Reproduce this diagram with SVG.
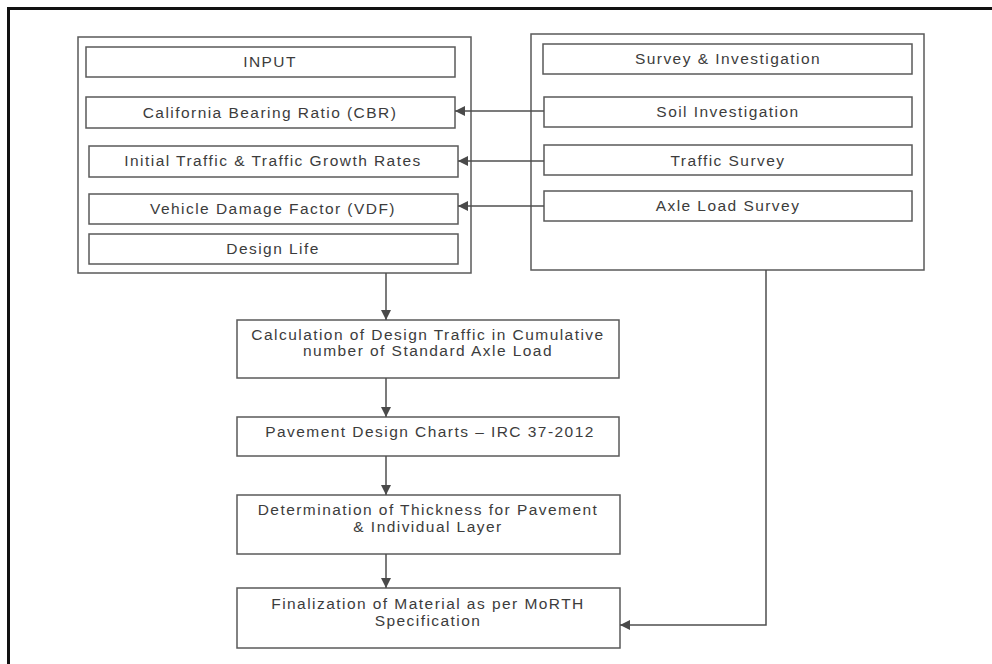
<svg xmlns="http://www.w3.org/2000/svg" width="992" height="664" viewBox="0 0 992 664">
<defs>
<marker id="ah" viewBox="0 0 10 10" refX="10" refY="5" markerWidth="10" markerHeight="10" markerUnits="userSpaceOnUse" orient="auto">
<path d="M0,0 L10,5 L0,10 Z" fill="#4a4a4a"/>
</marker>
<style>
.box{fill:#fff;stroke:#5a5a5a;stroke-width:1.5}
.grp{fill:none;stroke:#5a5a5a;stroke-width:1.5}
.t{font-family:"Liberation Sans",Arial,sans-serif;font-size:15.5px;fill:#3c3c3c;letter-spacing:1.45px;text-anchor:middle}
.c{fill:none;stroke:#4f4f4f;stroke-width:1.5}
</style>
</defs>
<rect x="0" y="0" width="992" height="664" fill="#fff"/>
<rect x="8.5" y="8.5" width="1000" height="700" fill="none" stroke="#111" stroke-width="3"/>

<g id="input-group">
<rect class="grp" x="78" y="37" width="393" height="236"/>
</g>
<g id="survey-group">
<rect class="grp" x="531" y="34" width="393" height="236"/>
</g>

<g id="input"><rect class="box" x="86" y="47" width="369" height="30"/><text class="t" x="270" y="67">INPUT</text></g>
<g id="cbr"><rect class="box" x="86" y="97" width="369" height="31"/><text class="t" x="270" y="118">California Bearing Ratio (CBR)</text></g>
<g id="traffic-growth"><rect class="box" x="89" y="146" width="369" height="31"/><text class="t" x="273" y="166">Initial Traffic &amp; Traffic Growth Rates</text></g>
<g id="vdf"><rect class="box" x="89" y="194" width="369" height="30"/><text class="t" x="273" y="214">Vehicle Damage Factor (VDF)</text></g>
<g id="design-life"><rect class="box" x="89" y="234" width="369" height="30"/><text class="t" x="273" y="254">Design Life</text></g>

<g id="survey"><rect class="box" x="543" y="44" width="369" height="30"/><text class="t" x="728" y="64">Survey &amp; Investigation</text></g>
<g id="soil"><rect class="box" x="544" y="97" width="368" height="30"/><text class="t" x="728" y="117">Soil Investigation</text></g>
<g id="traffic-survey"><rect class="box" x="544" y="145" width="368" height="30"/><text class="t" x="728" y="166">Traffic Survey</text></g>
<g id="axle"><rect class="box" x="544" y="191" width="368" height="30"/><text class="t" x="728" y="211">Axle Load Survey</text></g>

<g id="calc"><rect class="box" x="237" y="320" width="382" height="58"/><text class="t" x="428" y="340">Calculation of Design Traffic in Cumulative</text><text class="t" x="428" y="356">number of Standard Axle Load</text></g>
<g id="charts"><rect class="box" x="237" y="417" width="382" height="39"/><text class="t" x="430" y="437">Pavement Design Charts – IRC 37-2012</text></g>
<g id="thickness"><rect class="box" x="237" y="495" width="383" height="59"/><text class="t" x="428" y="515">Determination of Thickness for Pavement</text><text class="t" x="428" y="532">&amp; Individual Layer</text></g>
<g id="final"><rect class="box" x="237" y="588" width="383" height="60"/><text class="t" x="428" y="609">Finalization of Material as per MoRTH</text><text class="t" x="428" y="626">Specification</text></g>

<g id="connectors">
<line class="c" x1="544" y1="111" x2="455" y2="111" marker-end="url(#ah)"/>
<line class="c" x1="544" y1="161" x2="458" y2="161" marker-end="url(#ah)"/>
<line class="c" x1="544" y1="206" x2="458" y2="206" marker-end="url(#ah)"/>
<line class="c" x1="386" y1="273" x2="386" y2="320" marker-end="url(#ah)"/>
<line class="c" x1="386" y1="378" x2="386" y2="417" marker-end="url(#ah)"/>
<line class="c" x1="386" y1="456" x2="386" y2="495" marker-end="url(#ah)"/>
<line class="c" x1="386" y1="554" x2="386" y2="588" marker-end="url(#ah)"/>
<polyline class="c" points="766,270 766,625 620,625" marker-end="url(#ah)"/>
</g>
</svg>
